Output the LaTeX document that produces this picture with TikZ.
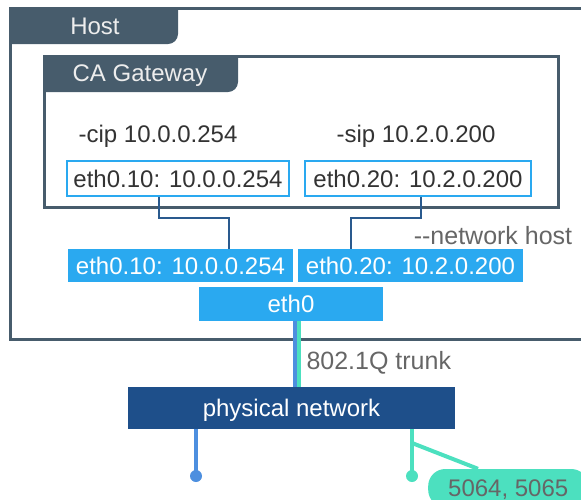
\documentclass[tikz,border=0pt]{standalone}
\usepackage{fontspec}
\setmainfont{Liberation Sans}
\usepackage{xcolor}
\usetikzlibrary{positioning, calc}
\definecolor{hostgray}{HTML}{475C6C}
\definecolor{skyblue}{HTML}{2AA9F0}
\definecolor{linkblue}{HTML}{2A5A8E}
\definecolor{navyblue}{HTML}{1E4F8A}
\definecolor{trunkblue}{HTML}{4D8FDF}
\definecolor{trunkteal}{HTML}{4CE0BF}
\definecolor{labelgray}{HTML}{666666}
\definecolor{textdark}{HTML}{333333}

\begin{document}
\begin{tikzpicture}[
  x=1pt, y=-1pt,
  font=\fontsize{24}{28}\selectfont,
  frame/.style={
    draw=hostgray,
    line width=3pt
  },
  tabtext/.style={
    text=white!93!black
  },
  ifbox/.style={
    rectangle,
    draw=skyblue,
    fill=white,
    line width=2pt,
    minimum height=35pt,
    text=textdark,
    text depth=0pt,
    inner sep=0pt
  },
  vethbox/.style={
    rectangle,
    fill=skyblue,
    minimum height=33pt,
    text=white,
    text depth=0pt,
    inner sep=0pt
  },
  physbox/.style={
    rectangle,
    fill=navyblue,
    minimum width=327pt,
    minimum height=42pt,
    text=white,
    text depth=0pt
  },
  link/.style={
    draw=linkblue,
    line width=1.2pt
  },
  trunk/.style={
    line width=4pt
  },
  note/.style={
    text=labelgray,
    font=\fontsize{25}{29}\selectfont
  }
]
\clip (0,0) rectangle (581,499);

% Host frame and tab
\draw[frame] (10,8) rectangle (610,339);
\fill[hostgray] (10,8) -- (178,8) [rounded corners=10pt] -- (178,44) [sharp corners] -- (10,44) -- cycle;
\node[tabtext] (host) at (95,26) {Host};

% CA Gateway frame and tab
\draw[frame] (44,56) rectangle (558,207);
\fill[hostgray] (44,56) -- (238,56) [rounded corners=10pt] -- (238,92) [sharp corners] -- (44,92) -- cycle;
\node[tabtext] (gw) at (140,76) {CA Gateway};

% Gateway options
\node[text=textdark] (cip) at (158,136) {-cip 10.0.0.254};
\node[text=textdark] (sip) at (416,136) {-sip 10.2.0.200};

% Interfaces inside the container
\node[ifbox, minimum width=222pt] (in10) at (178,178.5) {eth0.10: 10.0.0.254};
\node[ifbox, minimum width=226pt] (in20) at (418,178.5) {eth0.20: 10.2.0.200};

% Interfaces on the host
\node[vethbox, minimum width=225pt] (out10) at (180.5,265.5) {eth0.10: 10.0.0.254};
\node[vethbox, minimum width=225pt] (out20) at (410.5,265.5) {eth0.20: 10.2.0.200};
\node[vethbox, minimum width=184pt, minimum height=34pt] (eth0) at (291,304) {eth0};
\node[note] (nethost) at (493,236) {{-}{-}network host};

% Links between the two sides
\draw[link] ([xshift=-19pt]in10.south) -- ++(0,21) -| ([xshift=48.5pt]out10.north);
\draw[link] ([xshift=3pt]in20.south) -- ++(0,21) -| ([xshift=-59.5pt]out20.north);

% Physical network and trunk
\node[physbox] (phys) at (291.5,408) {physical network};
\draw[trunk, trunkblue] ([xshift=4pt]eth0.south) -- ([xshift=3.5pt]phys.north);
\draw[trunk, trunkteal] ([xshift=8pt]eth0.south) -- ([xshift=7.5pt]phys.north);
\node[note, anchor=west] (trunklbl) at (303,363) {802.1Q trunk};

% Ports below
\coordinate (portA) at (196,476);
\coordinate (portB) at (412,476);
\coordinate (split) at (412,443);
\node[fill=trunkteal, text=labelgray, rounded corners=17pt, minimum height=38pt,
      text depth=0pt, inner xsep=20pt, anchor=west] (ports) at (428,488) {5064, 5065};

\draw[trunk, trunkblue] ([xshift=-95.5pt]phys.south) -- (portA);
\fill[trunkblue] (portA) circle (6pt);
\draw[trunk, trunkteal] ([xshift=120.5pt]phys.south) -- (portB);
\fill[trunkteal] (portB) circle (6pt);
\draw[trunk, trunkteal] (split) -- ([xshift=50pt]ports.north west);

\end{tikzpicture}
\end{document}
